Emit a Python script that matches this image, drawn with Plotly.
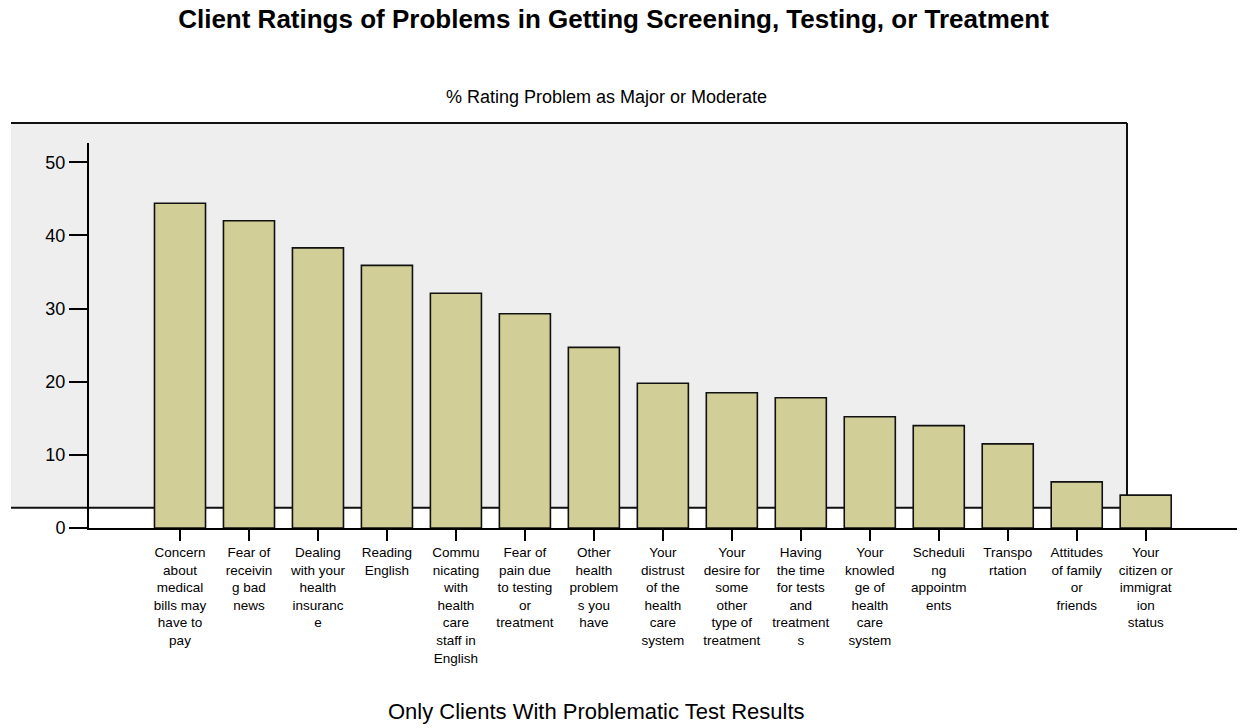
import plotly.graph_objects as go

categories = [
    "Concern<br>about<br>medical<br>bills may<br>have to<br>pay",
    "Fear of<br>receivin<br>g bad<br>news",
    "Dealing<br>with your<br>health<br>insuranc<br>e",
    "Reading<br>English",
    "Commu<br>nicating<br>with<br>health<br>care<br>staff in<br>English",
    "Fear of<br>pain due<br>to testing<br>or<br>treatment",
    "Other<br>health<br>problem<br>s you<br>have",
    "Your<br>distrust<br>of the<br>health<br>care<br>system",
    "Your<br>desire for<br>some<br>other<br>type of<br>treatment",
    "Having<br>the time<br>for tests<br>and<br>treatment<br>s",
    "Your<br>knowled<br>ge of<br>health<br>care<br>system",
    "Scheduli<br>ng<br>appointm<br>ents",
    "Transpo<br>rtation",
    "Attitudes<br>of family<br>or<br>friends",
    "Your<br>citizen or<br>immigrat<br>ion<br>status",
]
values = [44.4, 42.0, 38.3, 35.9, 32.1, 29.3, 24.7, 19.8, 18.5, 17.8, 15.2, 14.0, 11.5, 6.3, 4.5]
y_ticks = [0, 10, 20, 30, 40, 50]

title_text = "<b>Client Ratings of Problems in Getting Screening, Testing, or Treatment</b>"
subtitle_text = "% Rating Problem as Major or Moderate"
footer_text = "Only Clients With Problematic Test Results"

# full-window figure; body margin removed by a small post script
W, H = 1242, 728
AX_LEFT, AX_RIGHT, AX_TOP, AX_ZERO = 89, 1237, 143, 528.3
L = AX_LEFT
R = W - AX_RIGHT
T = AX_TOP
B = H - AX_ZERO
plot_w = AX_RIGHT - AX_LEFT
plot_h = AX_ZERO - AX_TOP


def px_x(px):
    return (px - AX_LEFT) / plot_w


def px_y(py):
    return (AX_ZERO - py) / plot_h


FONT = "Liberation Sans, Arial, sans-serif"

fig = go.Figure()
fig.add_trace(go.Bar(
    x=categories,
    y=values,
    width=0.74,
    marker=dict(color="#d2ce98", line=dict(color="#111111", width=1.6)),
    hoverinfo="y",
))

wall_x0, wall_x1 = px_x(11), px_x(1127)
wall_y0, wall_y1 = px_y(508), px_y(123)
shapes = [
    dict(type="rect", xref="paper", yref="paper", x0=wall_x0, x1=wall_x1, y0=wall_y0, y1=wall_y1,
         fillcolor="#eeeeee", line=dict(width=0), layer="below"),
    dict(type="line", xref="paper", yref="paper", x0=wall_x0, x1=wall_x1, y0=wall_y1, y1=wall_y1,
         line=dict(color="#111111", width=2), layer="below"),
    dict(type="line", xref="paper", yref="paper", x0=wall_x1, x1=wall_x1, y0=wall_y0, y1=wall_y1,
         line=dict(color="#111111", width=2), layer="below"),
    dict(type="line", xref="paper", yref="paper", x0=wall_x0, x1=wall_x1, y0=wall_y0, y1=wall_y0,
         line=dict(color="#111111", width=2), layer="below"),
]

n = len(categories)
first_c, last_c = 180, 1145.7
spacing = (last_c - first_c) / (n - 1)
x_lo = -(first_c - AX_LEFT) / spacing
x_hi = (n - 1) + (AX_RIGHT - last_c) / spacing

fig.update_layout(
    width=W, height=H,
    margin=dict(l=L, r=R, t=T, b=B, pad=0),
    paper_bgcolor="white",
    plot_bgcolor="rgba(0,0,0,0)",
    showlegend=False,
    font=dict(family=FONT, color="#000000"),
    title=dict(text=title_text, x=613.5 / W, xanchor="center",
               y=1 - 19 / H, yanchor="middle",
               font=dict(size=26, family=FONT, color="#000000")),
    shapes=shapes,
    annotations=[
        dict(text=subtitle_text, xref="paper", yref="paper", x=px_x(606.5), y=px_y(97),
             xanchor="center", yanchor="middle", showarrow=False, font=dict(size=18)),
        dict(text=footer_text, xref="paper", yref="paper", x=px_x(596.7), y=px_y(712),
             xanchor="center", yanchor="middle", showarrow=False, font=dict(size=22)),
    ],
)
fig.update_xaxes(
    type="category",
    range=[x_lo, x_hi],
    showline=True, linecolor="#000000", linewidth=2,
    ticks="outside", ticklen=11, tickwidth=2, tickcolor="#000000",
    tickfont=dict(size=13.5, family=FONT),
    showgrid=False, zeroline=False, tickangle=0,
)
fig.update_yaxes(
    range=[0, plot_h / 7.32],
    tickvals=y_ticks,
    showline=True, linecolor="#000000", linewidth=2,
    ticks="outside", ticklen=18, tickwidth=2, tickcolor="#000000",
    tickfont=dict(size=18, family=FONT),
    showgrid=False, zeroline=False,
)

fig.write_html(
    "out.html",
    config={"displayModeBar": False},
    post_script="document.body.style.margin='0';document.body.style.overflow='hidden';",
)
